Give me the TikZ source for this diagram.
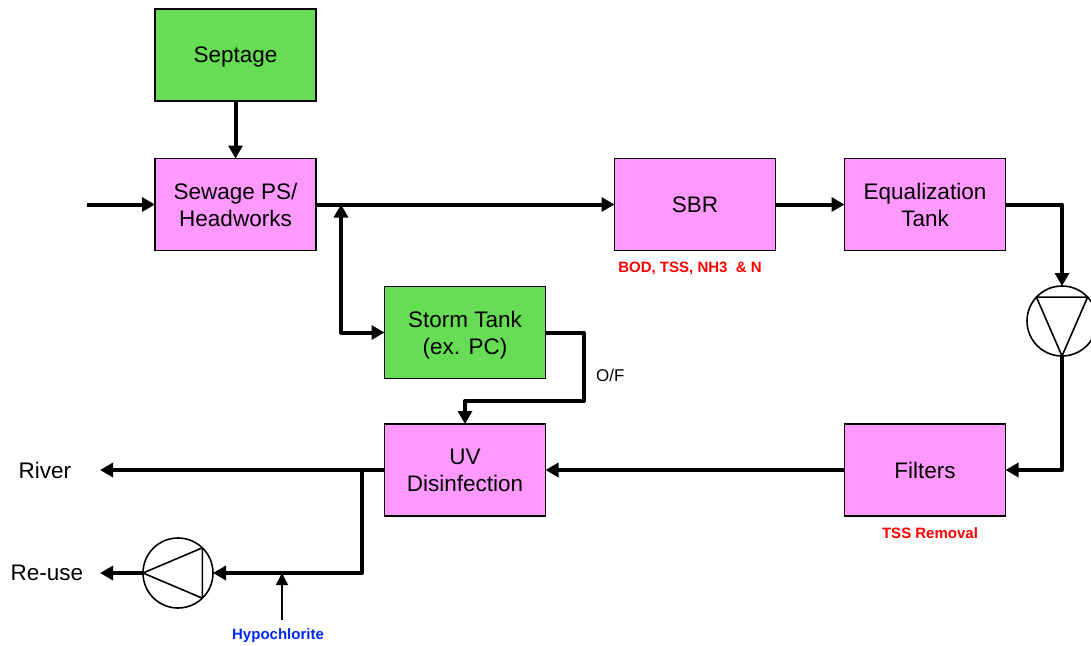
\documentclass[tikz,border=0pt]{standalone}
\usepackage{fontspec}
\setmainfont{Liberation Sans}
\usetikzlibrary{arrows.meta}
\definecolor{boxpink}{RGB}{255,153,255}
\definecolor{boxgreen}{RGB}{102,221,85}
\definecolor{noteblue}{RGB}{0,40,255}
\begin{document}
\begin{tikzpicture}[x=1pt,y=1pt,yscale=-1,xscale=1,
    unit/.style={draw, line width=1.2pt, minimum width=161pt, minimum height=92pt, inner sep=0pt, outer sep=0pt, align=center, text depth=0pt, font=\fontsize{22.5}{27}\selectfont},
    pinkunit/.style={unit, fill=boxpink},
    greenunit/.style={unit, fill=boxgreen},
    flow/.style={line width=4pt, line join=round, -{Triangle[length=13pt,width=14pt]}},
    pump/.style={circle, draw, line width=1.6pt, minimum size=70pt, inner sep=0pt, outer sep=0pt},
    note/.style={inner sep=0pt, font=\fontsize{15}{18}\bfseries\selectfont},
    label/.style={inner sep=0pt, font=\fontsize{22.5}{27}\selectfont}]
\useasboundingbox (0,0) rectangle (1091,645);

%Shape: Rectangle [id:septage]
\node [greenunit] (septage) at (235.5,55) {Septage};
%Shape: Rectangle [id:headworks]
\node [pinkunit] (headworks) at (235.5,204.5) {Sewage PS/\\Headworks};
%Shape: Rectangle [id:sbr]
\node [pinkunit] (sbr) at (695,204.5) {SBR};
%Shape: Rectangle [id:eqtank]
\node [pinkunit] (eqtank) at (925,204.5) {Equalization\\Tank};
%Shape: Rectangle [id:storm]
\node [greenunit] (storm) at (465,332.5) {Storm Tank\\(ex. PC)};
%Shape: Rectangle [id:uv]
\node [pinkunit] (uv) at (465,470) {UV\\Disinfection};
%Shape: Rectangle [id:filters]
\node [pinkunit] (filters) at (925,470) {Filters};

%Shape: Circle [id:pumpfeed]
\node [pump] (pumpfeed) at (1062,321) {};
\draw [line width=1.6pt, line join=round] (pumpfeed.43) -- (pumpfeed.137) -- (pumpfeed.-90) -- cycle ;
%Shape: Circle [id:pumpreuse]
\node [pump] (pumpreuse) at (178,573) {};
\draw [line width=1.6pt, line join=round] (pumpreuse.46) -- (pumpreuse.-46) -- (pumpreuse.180) -- cycle ;

% Text Node
\node [label] (river) at (45,470) {River};
% Text Node
\node [label] (reuse) at (47,573) {Re-use};
% Text Node
\node [inner sep=0pt, anchor=west, font=\fontsize{17}{20}\selectfont] (of) at (596,375) {O/F};
% Text Node
\node [note, text=red] (sbrnote) at (690,268) {BOD, TSS, NH3\ \ \& N};
% Text Node
\node [note, text=red] (filtnote) at (930,533) {TSS Removal};
% Text Node
\node [note, text=noteblue] (hypo) at (278,636) {Hypochlorite};

\coordinate (inlet) at (87,204.5);
\coordinate (branch) at (341,204.5);
\coordinate (ofcorner) at (584,401);
\coordinate (reusetee) at (362,470);
\coordinate (riverend) at (100,470);
\coordinate (reuseend) at (100,573);
\coordinate (dose) at (282,620);

%Straight Lines
\draw [flow] (septage) -- (headworks) ;
\draw [flow] (inlet) -- (headworks) ;
\draw [flow] (headworks) -- (sbr) ;
\draw [flow, {Triangle[length=13pt,width=14pt]}-{Triangle[length=13pt,width=14pt]}] (branch) |- (storm.west) ;
\draw [flow] (sbr) -- (eqtank) ;
\draw [flow] (eqtank.east) -| (pumpfeed.north) ;
\draw [flow] (pumpfeed.south) |- (filters.east) ;
\draw [flow] (filters) -- (uv) ;
\draw [flow] (storm.east) -| (ofcorner) -| (uv.north) ;
\draw [flow] (uv.west) -- (riverend) ;
\draw [flow] (reusetee) |- (pumpreuse.east) ;
\draw [flow] (pumpreuse.west) -- (reuseend) ;
\draw [line width=1.6pt, -{Triangle[length=12pt,width=12pt]}] (dose) -- (dose |- pumpreuse) ;
\end{tikzpicture}
\end{document}
